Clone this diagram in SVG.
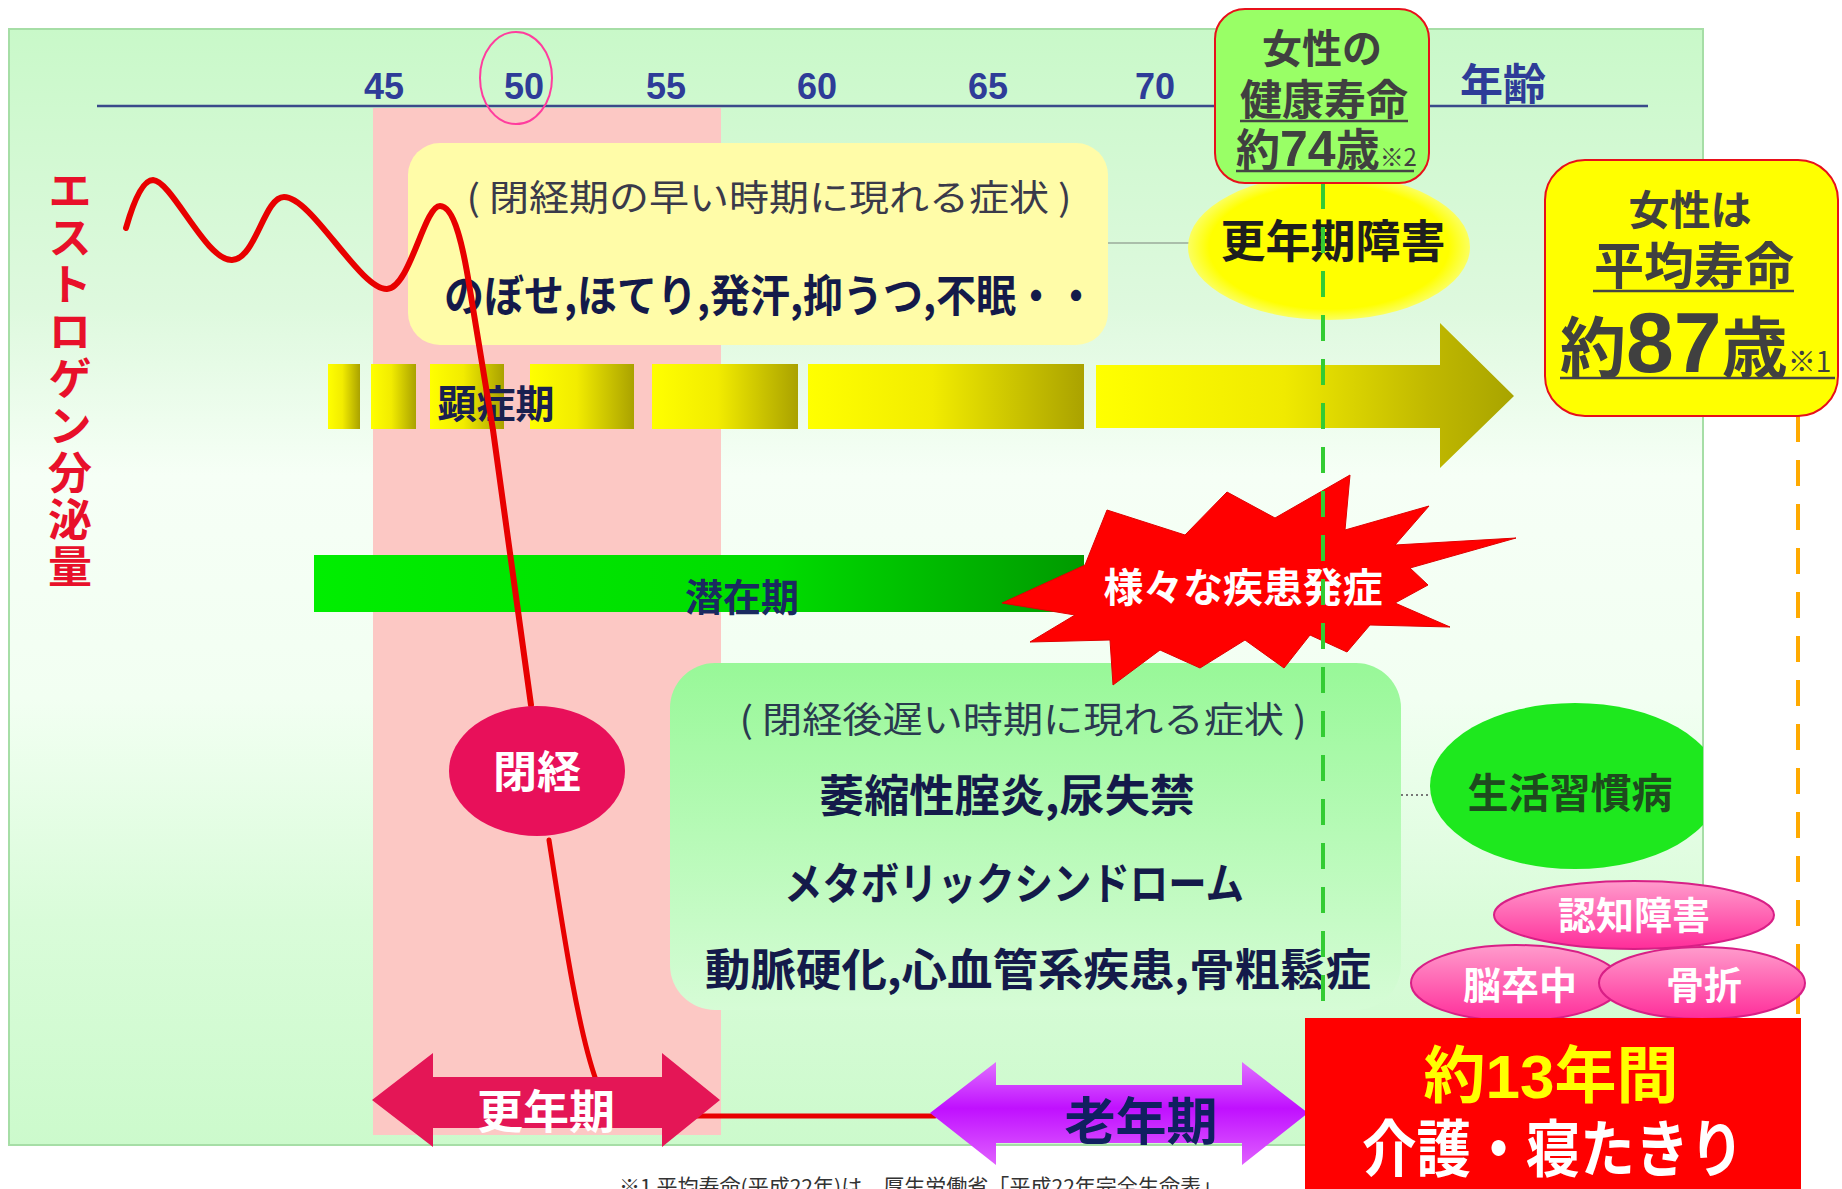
<svg xmlns="http://www.w3.org/2000/svg" width="1842" height="1189" viewBox="0 0 1842 1189">
<defs>
<style>
.jp{font-family:"Noto Sans CJK JP","Noto Sans CJK SC",sans-serif}
.num{font-family:"Liberation Sans","Noto Sans",sans-serif}
.b{font-weight:700}
.tick{font-family:"Liberation Sans",sans-serif;font-weight:700;font-size:36px;fill:#2e3c98;text-anchor:middle}
.mid{text-anchor:middle}
.navy{fill:#141a4a}
.wt{fill:#ffffff}
.block{fill:url(#blockGrad)}
.pinkell{fill:url(#pinkGrad);stroke:#d81f86;stroke-width:2}
.ulines line{stroke:#444;stroke-width:2.5}
.vert{writing-mode:vertical-rl;text-orientation:upright}
</style>
<linearGradient id="bgGrad" x1="0" y1="0" x2="0" y2="1">
<stop offset="0" stop-color="#c9f9c9"/>
<stop offset="0.25" stop-color="#def9de"/>
<stop offset="0.4" stop-color="#f6fff6"/>
<stop offset="0.6" stop-color="#f2fff2"/>
<stop offset="0.8" stop-color="#d9fcd9"/>
<stop offset="1" stop-color="#ccfacc"/>
</linearGradient>
<linearGradient id="blockGrad" x1="0" y1="0" x2="1" y2="0">
<stop offset="0" stop-color="#ffff00"/>
<stop offset="0.45" stop-color="#f2ec00"/>
<stop offset="1" stop-color="#aaa200"/>
</linearGradient>
<linearGradient id="arrowGrad" gradientUnits="userSpaceOnUse" x1="1096" y1="0" x2="1514" y2="0">
<stop offset="0" stop-color="#ffff00"/>
<stop offset="0.45" stop-color="#f0ea00"/>
<stop offset="0.8" stop-color="#c0b800"/>
<stop offset="1" stop-color="#a8a400"/>
</linearGradient>
<linearGradient id="greenBar" x1="0" y1="0" x2="1" y2="0">
<stop offset="0" stop-color="#00ee00"/>
<stop offset="0.6" stop-color="#00dc00"/>
<stop offset="1" stop-color="#009a00"/>
</linearGradient>
<linearGradient id="lateGrad" x1="0" y1="0" x2="0" y2="1">
<stop offset="0" stop-color="#98f898"/>
<stop offset="1" stop-color="#d6fcd6"/>
</linearGradient>
<linearGradient id="pinkGrad" x1="0" y1="0" x2="0" y2="1">
<stop offset="0" stop-color="#ff9ccc"/>
<stop offset="1" stop-color="#ff2d9a"/>
</linearGradient>
<linearGradient id="purpleGrad" x1="0" y1="0" x2="0" y2="1">
<stop offset="0" stop-color="#e070ff"/>
<stop offset="0.45" stop-color="#c010ff"/>
<stop offset="1" stop-color="#e060ff"/>
</linearGradient>
<radialGradient id="yellowEll" cx="0.5" cy="0.5" r="0.5">
<stop offset="0.85" stop-color="#ffff00"/>
<stop offset="1" stop-color="#fbff60"/>
</radialGradient>
<clipPath id="bgClip"><rect x="9" y="29" width="1694" height="1116"/></clipPath>
</defs>

<rect x="0" y="0" width="1842" height="1189" fill="#ffffff"/>
<g id="background">
<rect x="9" y="29" width="1694" height="1116" fill="url(#bgGrad)" stroke="#a6dea6" stroke-width="2"/>
<rect x="373" y="108" width="348" height="1027" fill="#fcc8c4"/>
</g>

<g id="axis">
<line x1="97" y1="106" x2="1648" y2="106" stroke="#3a4a8a" stroke-width="2.5"/>
<text class="tick" x="384" y="99">45</text>
<text class="tick" x="524" y="99">50</text>
<text class="tick" x="666" y="99">55</text>
<text class="tick" x="817" y="99">60</text>
<text class="tick" x="988" y="99">65</text>
<text class="tick" x="1155" y="99">70</text>
<text class="jp b mid" x="1503" y="100" font-size="43" fill="#2e3c98">年齢</text>
<ellipse cx="516" cy="78" rx="36" ry="46" fill="none" stroke="#ff3d9e" stroke-width="2"/>
</g>

<g id="estrogen-label">
<text class="jp b vert" x="70" y="168" font-size="44" letter-spacing="3" fill="#e8102a">エストロゲン分泌量</text>
</g>

<g id="connectors">
<line x1="1108" y1="243" x2="1190" y2="243" stroke="#9aaa9a" stroke-width="1.5"/>
<line x1="1401" y1="795" x2="1430" y2="795" stroke="#777" stroke-width="2" stroke-dasharray="2 3"/>
</g>

<g id="early-symptoms">
<rect x="408" y="143" width="700" height="202" rx="32" fill="#fffca8"/>
<text class="jp mid" x="769" y="211" font-size="36" fill="#3a3a4a" textLength="605" lengthAdjust="spacingAndGlyphs">( 閉経期の早い時期に現れる症状 )</text>
<text class="jp b mid navy" x="770" y="312" font-size="44" textLength="652" lengthAdjust="spacingAndGlyphs">のぼせ,ほてり,発汗,抑うつ,不眠・・</text>
</g>

<g id="menopause-disorder">
<ellipse cx="1329" cy="247" rx="141" ry="73" fill="url(#yellowEll)"/>
<text class="jp b mid" x="1333" y="258" font-size="45" fill="#1e1e1e">更年期障害</text>
</g>

<g id="overt-period">
<rect class="block" x="328" y="364" width="32" height="65"/>
<rect class="block" x="371" y="364" width="45" height="65"/>
<rect class="block" x="430" y="364" width="74" height="65"/>
<rect class="block" x="530" y="364" width="104" height="65"/>
<rect class="block" x="652" y="364" width="146" height="65"/>
<rect class="block" x="808" y="364" width="276" height="65"/>
<polygon points="1096,365 1440,365 1440,323 1514,396 1440,468 1440,428 1096,428" fill="url(#arrowGrad)"/>
<text class="jp b mid" x="496" y="418" font-size="39" fill="#1a2050">顕症期</text>
</g>

<g id="latent-period">
<rect x="314" y="555" width="770" height="57" fill="url(#greenBar)"/>
<text class="jp b mid" x="742" y="611" font-size="38" fill="#1a2a60">潜在期</text>
</g>

<g id="late-symptoms">
<rect x="670" y="663" width="731" height="347" rx="45" fill="url(#lateGrad)"/>
<text class="jp mid" x="1023" y="733" font-size="36" fill="#2a3a50" textLength="567" lengthAdjust="spacingAndGlyphs">( 閉経後遅い時期に現れる症状 )</text>
<text class="jp b mid navy" x="1007" y="812" font-size="44" textLength="376" lengthAdjust="spacingAndGlyphs">萎縮性腟炎,尿失禁</text>
<text class="jp b mid navy" x="1014" y="900" font-size="44" textLength="460" lengthAdjust="spacingAndGlyphs">メタボリックシンドローム</text>
<text class="jp b mid navy" x="1038" y="986" font-size="44" textLength="666" lengthAdjust="spacingAndGlyphs">動脈硬化,心血管系疾患,骨粗鬆症</text>
</g>

<g id="disease-onset">
<polygon points="1002,603 1085,565 1107,510 1185,535 1227,492 1275,518 1350,475 1345,530 1429,506 1395,545 1516,538 1410,568 1428,585 1395,603 1450,627 1370,625 1347,652 1310,635 1284,668 1245,640 1200,668 1160,650 1113,685 1110,640 1030,642 1075,615" fill="#ff0000" stroke="#e00000" stroke-width="1"/>
<text class="jp b mid wt" x="1243" y="602" font-size="40" textLength="279" lengthAdjust="spacingAndGlyphs">様々な疾患発症</text>
</g>

<g id="lifestyle-disease" clip-path="url(#bgClip)">
<ellipse cx="1575" cy="786" rx="145" ry="83" fill="#1ee81e"/>
<text class="jp b mid" x="1570" y="808" font-size="41" fill="#1e4a1e">生活習慣病</text>
</g>

<g id="estrogen-curve" fill="none" stroke="#e80000" stroke-linecap="round" stroke-linejoin="round">
<path d="M126 228 C134 200 143 180 153 180 C172 181 206 261 232 260 C256 259 264 197 284 197 C312 197 360 290 387 289 C410 288 424 206 440 206 C454 206 463 245 470 290 C478 340 486 390 493 430 L531 705" stroke-width="6"/>
<path d="M549 840 C563 930 578 1030 596 1080 C606 1106 620 1116 660 1116 L935 1116" stroke-width="5"/>
</g>

<g id="menopause">
<ellipse cx="537" cy="771" rx="88" ry="65" fill="#e8105a"/>
<text class="jp b mid wt" x="537" y="788" font-size="44">閉経</text>
</g>

<g id="climacteric">
<polygon points="372,1100 433,1053 433,1077 662,1077 662,1053 720,1100 662,1147 662,1128 433,1128 433,1147" fill="#e41656"/>
<text class="jp b mid wt" x="546" y="1128" font-size="46">更年期</text>
</g>

<g id="old-age">
<polygon points="930,1113 996,1062 996,1085 1242,1085 1242,1062 1308,1113 1242,1165 1242,1143 996,1143 996,1165" fill="url(#purpleGrad)"/>
<text class="jp b mid" x="1141" y="1140" font-size="51" fill="#102060">老年期</text>
</g>

<g id="guide-lines" fill="none" stroke-width="4">
<line x1="1323" y1="183" x2="1323" y2="1018" stroke="#33cc33" stroke-dasharray="26 18"/>
<line x1="1798" y1="416" x2="1798" y2="1015" stroke="#ffaa00" stroke-dasharray="26 18"/>
</g>

<g id="healthy-life">
<rect x="1215" y="9" width="214" height="174" rx="30" fill="#99ff66" stroke="#e8101a" stroke-width="2"/>
<text class="jp b mid" x="1322" y="63" font-size="40" fill="#404040">女性の</text>
<text class="jp b mid" x="1324" y="115" font-size="42" fill="#404040">健康寿命</text>
<text class="b" x="1236" y="166" fill="#404040"><tspan class="jp" font-size="44">約</tspan><tspan class="num" font-size="50">74</tspan><tspan class="jp" font-size="44">歳</tspan><tspan class="jp" font-size="24" font-weight="400">※2</tspan></text>
<g class="ulines">
<line x1="1240" y1="121" x2="1408" y2="121"/>
<line x1="1236" y1="171" x2="1414" y2="171"/>
</g>
</g>

<g id="life-expectancy">
<rect x="1545" y="160" width="293" height="256" rx="40" fill="#ffff00" stroke="#e8101a" stroke-width="2"/>
<text class="jp b mid" x="1690" y="225" font-size="41" fill="#404040">女性は</text>
<text class="jp b mid" x="1694" y="284" font-size="50" fill="#404040">平均寿命</text>
<text class="b" x="1560" y="372" fill="#404040"><tspan class="jp" font-size="66">約</tspan><tspan class="num" font-size="86">87</tspan><tspan class="jp" font-size="66">歳</tspan><tspan class="jp" font-size="28" font-weight="400">※1</tspan></text>
<g class="ulines">
<line x1="1593" y1="291" x2="1794" y2="291"/>
<line x1="1560" y1="378" x2="1835" y2="378"/>
</g>
</g>

<g id="dementia">
<ellipse class="pinkell" cx="1634" cy="915" rx="140" ry="34"/>
<text class="jp b mid wt" x="1634" y="929" font-size="38">認知障害</text>
</g>
<g id="stroke">
<ellipse class="pinkell" cx="1516" cy="983" rx="105" ry="38"/>
<text class="jp b mid wt" x="1520" y="999" font-size="38">脳卒中</text>
</g>
<g id="fracture">
<ellipse class="pinkell" cx="1702" cy="983" rx="103" ry="36"/>
<text class="jp b mid wt" x="1704" y="999" font-size="38">骨折</text>
</g>

<g id="care-period">
<rect x="1305" y="1018" width="496" height="171" fill="#ff0000"/>
<text class="b mid" x="1551" y="1098" font-size="62" fill="#ffff00"><tspan class="jp">約</tspan><tspan class="num">13</tspan><tspan class="jp">年間</tspan></text>
<text class="jp b mid wt" x="1553" y="1172" font-size="62" textLength="382" lengthAdjust="spacingAndGlyphs">介護・寝たきり</text>
</g>

<g id="footnote">
<text class="jp" x="619" y="1194" font-size="20" fill="#333333" textLength="603" lengthAdjust="spacingAndGlyphs">※1  平均寿命(平成22年)は、厚生労働省「平成22年完全生命表」</text>
</g>
</svg>
